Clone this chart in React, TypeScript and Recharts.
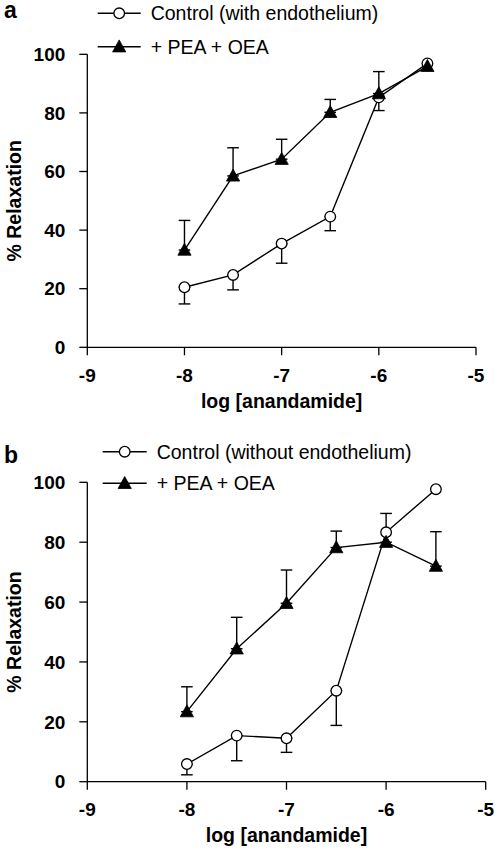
import React from 'react';
import { LineChart, Line, XAxis, YAxis, ErrorBar, Label, Legend } from 'recharts';

// ---------- data ----------
const doses = [-8, -7.5, -7, -6.5, -6, -5.5];
const xTicks = [-9, -8, -7, -6, -5];
const yTicks = [0, 20, 40, 60, 80, 100];

// panel a (with endothelium)
const controlA = [20.5, 24.7, 35.4, 44.6, 85.3, 96.9];
const controlALowerErr = [5.7, 5.1, 6.7, 4.8, 4.5, 0];
const peaOeaA = [33.2, 58.5, 64.2, 80.2, 86.6, 95.9];
const peaOeaAUpperErr = [10.1, 9.6, 6.8, 4.4, 7.5, 0];

// panel b (without endothelium)
const controlB = [5.9, 15.4, 14.5, 30.4, 83.3, 97.7];
const controlBLowerErr = [3.6, 8.4, 4.7, 11.6, 0, 0];
const peaOeaB = [23.4, 44.4, 59.6, 78.2, 80.0, 72.0];
const peaOeaBUpperErr = [8.3, 10.5, 11.1, 5.5, 9.6, 11.5];

const namesA = ['Control (with endothelium)', '+ PEA + OEA'];
const namesB = ['Control (without endothelium)', '+ PEA + OEA'];
const panelLetters = ['a', 'b'];
const xTitle = 'log [anandamide]';
const yTitle = '% Relaxation';

const FONT = '"Liberation Sans", Arial, Helvetica, sans-serif';

type Row = {
  x: number;
  ctrl: number;
  ctrlErr: number[] | null;
  pea: number;
  peaErr: number[] | null;
};

function buildRows(ctrl: number[], ctrlLo: number[], pea: number[], peaHi: number[]): Row[] {
  return doses.map((x, i) => ({
    x,
    ctrl: ctrl[i],
    ctrlErr: ctrlLo[i] ? [ctrlLo[i], 0] : null,
    pea: pea[i],
    peaErr: peaHi[i] ? [0, peaHi[i]] : null,
  }));
}

const rowsA = buildRows(controlA, controlALowerErr, peaOeaA, peaOeaAUpperErr);
const rowsB = buildRows(controlB, controlBLowerErr, peaOeaB, peaOeaBUpperErr);

// ---------- markers ----------
const CircleDot = (props: any) => {
  const { cx, cy } = props;
  if (cx == null || cy == null) return null;
  return <circle cx={cx} cy={cy} r={5.3} fill="#fff" stroke="#000" strokeWidth={1.3} />;
};

const triPath = (cx: number, cy: number) =>
  `M${cx},${cy - 6.8} L${cx + 6.6},${cy + 5.2} L${cx - 6.6},${cy + 5.2} Z`;

const TriangleDot = (props: any) => {
  const { cx, cy } = props;
  if (cx == null || cy == null) return null;
  return <path d={triPath(cx, cy)} fill="#000" stroke="#000" strokeWidth={0.8} strokeLinejoin="miter" />;
};

// ---------- panel ----------
type PanelProps = {
  rows: Row[];
  names: string[];
  letter: string;
  top: number;
  height: number;
  margin: { top: number; right: number; bottom: number; left: number };
  legendLine: [number, number];
  legendTextX: number;
  legendRows: [number, number];
  letterPos: [number, number];
};

const Panel = ({ rows, names, letter, top, height, margin, legendLine, legendTextX, legendRows, letterPos }: PanelProps) => {
  const legendContent = () => {
    const mid = (legendLine[0] + legendLine[1]) / 2;
    return (
      <svg width={495} height={80} style={{ display: 'block' }}>
        <text x={letterPos[0]} y={letterPos[1]} fontFamily={FONT} fontWeight="bold" fontSize={23} fill="#000">
          {letter}
        </text>
        {names.map((n, i) => (
          <g key={n}>
            <line x1={legendLine[0]} x2={legendLine[1]} y1={legendRows[i]} y2={legendRows[i]} stroke="#000" strokeWidth={1.4} />
            {i === 0 ? (
              <circle cx={mid} cy={legendRows[i]} r={5.3} fill="#fff" stroke="#000" strokeWidth={1.3} />
            ) : (
              <path d={triPath(mid, legendRows[i])} fill="#000" stroke="#000" strokeWidth={0.8} />
            )}
            <text x={legendTextX} y={legendRows[i] + 7} fontFamily={FONT} fontSize={19.5} fill="#000">
              {n}
            </text>
          </g>
        ))}
      </svg>
    );
  };

  return (
    <div style={{ position: 'absolute', left: 0, top, width: 495, height }}>
      <LineChart width={495} height={height} data={rows} margin={margin}>
        <XAxis
          dataKey="x"
          type="number"
          domain={[-9, -5]}
          ticks={xTicks}
          allowDataOverflow
          height={60}
          tickSize={8}
          tickMargin={13}
          stroke="#000"
          strokeWidth={1.3}
          tick={{ fill: '#000', fontSize: 19, fontWeight: 'bold', fontFamily: FONT }}
        >
          <Label
            content={(p: any) => {
              const vb = p.viewBox || {};
              return (
                <text
                  x={vb.x + vb.width / 2}
                  y={vb.y + 60.5}
                  textAnchor="middle"
                  fontFamily={FONT}
                  fontWeight="bold"
                  fontSize={19.5}
                  fill="#000"
                >
                  {xTitle}
                </text>
              );
            }}
          />
        </XAxis>
        <YAxis
          type="number"
          domain={[0, 100]}
          ticks={yTicks}
          allowDataOverflow
          width={60}
          tickSize={8}
          tickMargin={14}
          stroke="#000"
          strokeWidth={1.3}
          tick={{ fill: '#000', fontSize: 19, fontWeight: 'bold', fontFamily: FONT }}
        >
          <Label
            content={(p: any) => {
              const vb = p.viewBox || {};
              const cy = vb.y + vb.height / 2;
              return (
                <text
                  x={20.7}
                  y={cy}
                  transform={`rotate(-90 20.7 ${cy})`}
                  textAnchor="middle"
                  fontFamily={FONT}
                  fontWeight="bold"
                  fontSize={19.5}
                  fill="#000"
                >
                  {yTitle}
                </text>
              );
            }}
          />
        </YAxis>
        <Legend
          layout="horizontal"
          verticalAlign="middle"
          align="center"
          content={legendContent}
          wrapperStyle={{ position: 'absolute', left: 0, top: 0, width: 495, height: 80 }}
        />
        <Line
          dataKey="ctrl"
          name={names[0]}
          type="linear"
          stroke="#000"
          strokeWidth={1.4}
          dot={<CircleDot />}
          activeDot={false}
          isAnimationActive={false}
        >
          <ErrorBar dataKey="ctrlErr" width={5.8} stroke="#000" strokeWidth={1.4} direction="y" />
        </Line>
        <Line
          dataKey="pea"
          name={names[1]}
          type="linear"
          stroke="#000"
          strokeWidth={1.4}
          dot={<TriangleDot />}
          activeDot={false}
          isAnimationActive={false}
        >
          <ErrorBar dataKey="peaErr" width={5.8} stroke="#000" strokeWidth={1.4} direction="y" />
        </Line>
      </LineChart>
    </div>
  );
};

export default function App() {
  return (
    <div style={{ position: 'absolute', left: 0, top: 0, width: 495, height: 850, background: '#fff' }}>
      <Panel
        rows={rowsA}
        names={namesA}
        letter={panelLetters[0]}
        top={0}
        height={420}
        margin={{ top: 54.3, right: 19, bottom: 12.7, left: 27.3 }}
        legendLine={[97.7, 140.7]}
        legendTextX={150.7}
        legendRows={[13.3, 46.7]}
        letterPos={[4, 18.3]}
      />
      <Panel
        rows={rowsB}
        names={namesB}
        letter={panelLetters[1]}
        top={420}
        height={430}
        margin={{ top: 62.3, right: 9.3, bottom: 8.3, left: 27.3 }}
        legendLine={[102.7, 146.7]}
        legendTextX={156.7}
        legendRows={[31.7, 63.3]}
        letterPos={[4, 43]}
      />
    </div>
  );
}
